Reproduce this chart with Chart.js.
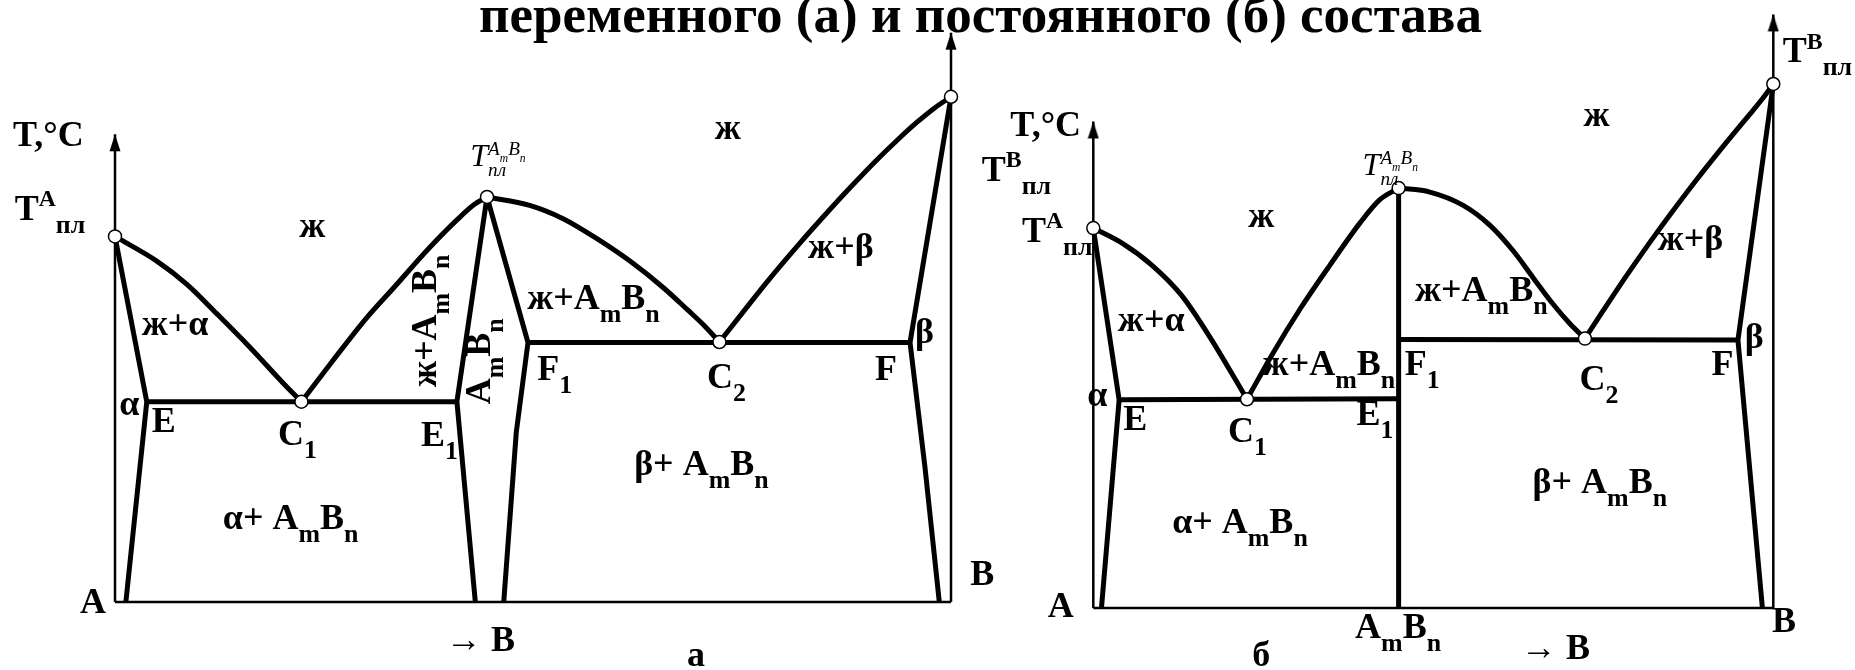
<!DOCTYPE html>
<html>
<head>
<meta charset="utf-8">
<script src="https://cdn.jsdelivr.net/npm/chart.js@4/dist/chart.umd.min.js"></script>
<style>
  body { margin: 0; background: #fff; }
  #wrap { position: relative; width: 1855px; height: 670px; overflow: hidden; background: #fff; }
  #wrap canvas { position: absolute; top: 0; }
  #title { position: absolute; white-space: nowrap; font: bold 52px "Liberation Serif", "Times New Roman", serif;
           line-height: 52px; transform-origin: left top; color: #000; }
</style>
</head>
<body>
<div id="wrap">
  <div id="title">переменного (а) и постоянного (б) состава</div>
  <canvas id="panelA" width="1000" height="670" style="left:0"></canvas>
  <canvas id="panelB" width="895" height="670" style="left:960px"></canvas>
</div>
<script>
// composition, % B  /  temperature (relative units)

// --- panel а: compound melts congruently, variable composition
const aLiquidusA = [[0,741],[5.0,691],[8.6,644],[12.2,584],[16.1,517],[20.1,444],[22.3,406]];
const aLiquidusAB1 = [[22.3,406],[26,488],[30,574],[33.5,640],[37.5,716],[41,776],[43,806],[44.5,821]];
const aLiquidusAB2 = [[44.5,821],[49.6,804],[53.6,777],[57.6,737],[61.6,691],[65.6,637],[68.5,592],[70.5,560],[72.3,527]];
const aLiquidusB = [[72.3,527],[75,585],[78,649],[81.9,727],[85,786],[88,841],[91,894],[93.5,935],[95.9,972],[98,1001],[100,1024]];
const aSolidusAlpha = [[0,741],[3.8,406],[1.3,0]];
const aEutectic1 = [[3.8,406],[40.9,406]];
const aCompound = [[43.1,0],[40.9,406],[44.5,821],[49.4,526],[48.0,344],[46.5,0]];
const aEutectic2 = [[49.4,526],[95.1,526]];
const aSolidusBeta = [[100,1024],[95.1,526],[96.9,271],[98.6,0]];
const aPoints = [[0,741],[22.3,406],[44.5,821],[72.3,527],[100,1024]];
const aAxisLeft = [[0,0],[0,948]];
const aAxisRight = [[100,0],[100,1154]];
const aBase = [[0,0],[100,0]];

// --- panel б: compound of constant composition
const bLiquidusA = [[0,770],[4.4,738],[8.6,695],[12.9,635],[17.1,550],[22.6,423]];
const bLiquidusAB1 = [[22.6,423],[26.4,516],[30.6,610],[34.8,695],[39.2,780],[42.1,827],[44.9,851]];
const bLiquidusAB2 = [[44.9,851],[49.5,843],[54.4,816],[58.3,776],[61.8,723],[64.7,669],[67.6,616],[70.1,576],[72.3,546]];
const bLiquidusB = [[72.3,546],[75,603],[77.5,655],[80,705],[82,744],[84.7,795],[88.6,866],[92,925],[94.5,967],[96.5,1000],[98.4,1032],[100,1062]];
const bSolidusAlpha = [[0,770],[3.8,422],[1.2,0]];
const bEutectic1 = [[3.8,422],[44.9,424]];
const bCompound = [[44.9,0],[44.9,851]];
const bEutectic2 = [[44.9,544],[94.8,543]];
const bSolidusBeta = [[100,1062],[94.8,543],[98.4,0]];
const bPoints = [[0,770],[22.6,423],[44.9,851],[72.3,546],[100,1062]];
const bAxisLeft = [[0,0],[0,986]];
const bAxisRight = [[100,0],[100,1203]];
const bBase = [[0,0],[100,0]];

// labels: text (_ sub, ^ sup), composition, temperature, flags (c centre, r rotated, i italic)
const aLabels = [
  ['T,°C', -12.2, 924],
  ['T^A_{пл}', -12.0, 774],
  ['ж', 23.6, 740, 'c'],
  ['ж+α', 3.2, 541],
  ['α', 0.5, 380],
  ['E', 4.4, 344],
  ['C_1', 19.5, 318],
  ['E_1', 36.6, 316],
  ['ж+A_mB_n', 38.4, 570, 'r'],
  ['A_mB_n', 44.9, 488, 'r'],
  ['ж+A_mB_n', 49.3, 594],
  ['F_1', 50.5, 450],
  ['T^{A_mB_n}_{пл}', 42.5, 884, 'i'],
  ['ж', 73.3, 938, 'c'],
  ['ж+β', 82.9, 698],
  ['β', 95.7, 524],
  ['F', 90.9, 450],
  ['C_2', 70.8, 434],
  ['β+ A_mB_n', 62.1, 258],
  ['α+ A_mB_n', 12.9, 148],
  ['A', -4.2, -22],
  ['B', 102.3, 34],
  ['→ B', 39.6, -100],
  ['а', 69.5, -130, 'c'],
];
const bLabels = [
  ['T,°C', -12.2, 956],
  ['T^B_{пл}', -16.4, 866],
  ['T^A_{пл}', -10.5, 742],
  ['ж', 24.7, 772, 'c'],
  ['ж', 74.0, 976, 'c'],
  ['T^{A_mB_n}_{пл}', 39.6, 878, 'i'],
  ['ж+α', 3.6, 562],
  ['ж+A_mB_n', 24.9, 472],
  ['ж+A_mB_n', 47.3, 622],
  ['ж+β', 83.0, 726],
  ['β', 95.8, 526],
  ['F', 90.9, 472],
  ['F_1', 45.8, 472],
  ['C_2', 71.5, 442],
  ['α', -0.9, 410],
  ['E', 4.4, 360],
  ['C_1', 19.8, 336],
  ['E_1', 38.7, 370],
  ['β+ A_mB_n', 64.6, 233],
  ['α+ A_mB_n', 11.6, 152],
  ['A', -6.7, -18],
  ['B', 99.8, -48],
  ['A_mB_n', 38.5, -60],
  ['б', 24.7, -118, 'c'],
  ['→ B', 62.9, -104],
  ['T^B_{пл}', 101.4, 1106],
];

const FAMILY = '"Liberation Serif", "Times New Roman", serif';
const BOLD = {size: 36, style: 'bold', subScale: 0.72, subDrop: 0.36, supScale: 0.66, supRise: 0.38, stack: false};
const ITALIC = {size: 32, style: 'italic', subScale: 0.6, subDrop: 0.33, supScale: 0.6, supRise: 0.33, stack: true};

function parse(s) {
    let out = [], buf = '', i = 0;
    let flush = () => { if (buf) { out.push({t: buf}); buf = ''; } };
    while (i < s.length) {
        let ch = s[i];
        if (ch === '_' || ch === '^') {
            flush();
            let inner;
            if (s[i + 1] === '{') {
                let depth = 0, j = i + 1;
                for (; j < s.length; j++) {
                    if (s[j] === '{') depth++;
                    if (s[j] === '}' && --depth === 0) break;
                }
                inner = s.slice(i + 2, j);
                i = j + 1;
            } else {
                inner = s[i + 1];
                i += 2;
            }
            out.push({kind: ch === '_' ? 'sub' : 'sup', items: parse(inner)});
        } else {
            buf += ch;
            i++;
        }
    }
    flush();
    return out;
}

function drawItems(ctx, items, x, y, size, cfg, dry) {
    let cx = x, supStart = x, prev = null;
    for (let it of items) {
        if (it.t) {
            ctx.font = `${cfg.style} ${size}px ${FAMILY}`;
            if (!dry) ctx.fillText(it.t, cx, y);
            cx += ctx.measureText(it.t).width;
            prev = 't';
        } else if (it.kind === 'sup') {
            supStart = cx;
            cx += drawItems(ctx, it.items, cx, y - size * cfg.supRise, size * cfg.supScale, cfg, dry);
            prev = 'sup';
        } else {
            let sx = (cfg.stack && prev === 'sup') ? supStart : cx;
            let w = drawItems(ctx, it.items, sx, y + size * cfg.subDrop, size * cfg.subScale, cfg, dry);
            cx = Math.max(cx, sx + w);
            prev = 'sub';
        }
    }
    return cx - x;
}

let labelPlugin = (labels) => ({
    id: 'phaseLabels',
    afterDatasetsDraw(chart) {
        let {ctx, scales: {x, y}} = chart;
        ctx.save();
        ctx.fillStyle = '#000';
        ctx.textAlign = 'left';
        ctx.textBaseline = 'alphabetic';
        for (let [text, c, t, flag = ''] of labels) {
            let cfg = flag.includes('i') ? ITALIC : BOLD;
            let items = parse(text);
            let px = x.getPixelForValue(c), py = y.getPixelForValue(t);
            let w = drawItems(ctx, items, 0, 0, cfg.size, cfg, true);
            if (flag.includes('r')) {
                ctx.save();
                ctx.translate(px, py);
                ctx.rotate(-Math.PI / 2);
                drawItems(ctx, items, -w / 2, 0, cfg.size, cfg, false);
                ctx.restore();
            } else {
                let sx = flag.includes('c') ? px - w / 2 : px;
                drawItems(ctx, items, sx, py, cfg.size, cfg, false);
            }
        }
        ctx.restore();
    }
});

// narrow arrow head, tip at the centre of the image
let arrowHead = document.createElement('canvas');
arrowHead.width = 12;
arrowHead.height = 36;
{
    let g = arrowHead.getContext('2d');
    g.fillStyle = '#000';
    g.beginPath();
    g.moveTo(6, 18);
    g.lineTo(11.5, 35);
    g.lineTo(0.5, 35);
    g.closePath();
    g.fill();
}

let pts = (arr) => arr.map(([x, y]) => ({x, y}));

let line = (arr, width, curved = false) => ({
    data: pts(arr),
    showLine: true,
    borderColor: '#000',
    borderWidth: width,
    pointRadius: 0,
    fill: false,
    clip: false,
    borderJoinStyle: 'round',
    cubicInterpolationMode: curved ? 'monotone' : 'default',
    tension: 0
});

let createPanel = (id, set, labels, padding, yMax) => {
    let thick = 5, thin = 2.5;
    let datasets = [
        {data: pts(set.points), showLine: false, pointRadius: 6.5, pointBorderWidth: 1.5,
         pointBackgroundColor: '#fff', pointBorderColor: '#000', clip: false},
        {data: pts([set.axisLeft[1], set.axisRight[1]]), showLine: false, pointStyle: arrowHead,
         pointRadius: 1, clip: false},
        line(set.liquidusA, thick, true),
        line(set.liquidusAB1, thick, true),
        line(set.liquidusAB2, thick, true),
        line(set.liquidusB, thick, true),
        line(set.solidusAlpha, thick),
        line(set.eutectic1, thick),
        line(set.compound, thick),
        line(set.eutectic2, thick),
        line(set.solidusBeta, thick),
        line(set.axisLeft, thin),
        line(set.axisRight, thin),
        line(set.base, thin),
    ];
    return new Chart(document.getElementById(id), {
        type: 'scatter',
        data: {datasets},
        options: {
            responsive: false,
            animation: false,
            devicePixelRatio: 1,
            events: [],
            layout: {padding},
            scales: {
                x: {type: 'linear', min: 0, max: 100, display: false},
                y: {type: 'linear', min: 0, max: yMax, display: false}
            },
            plugins: {legend: {display: false}, tooltip: {enabled: false}}
        },
        plugins: [labelPlugin(labels)]
    });
};

createPanel('panelA', {
    liquidusA: aLiquidusA, liquidusAB1: aLiquidusAB1, liquidusAB2: aLiquidusAB2, liquidusB: aLiquidusB,
    solidusAlpha: aSolidusAlpha, eutectic1: aEutectic1, compound: aCompound, eutectic2: aEutectic2,
    solidusBeta: aSolidusBeta, points: aPoints, axisLeft: aAxisLeft, axisRight: aAxisRight, base: aBase
}, aLabels, {left: 115, right: 49, top: 0, bottom: 68}, 1204);

createPanel('panelB', {
    liquidusA: bLiquidusA, liquidusAB1: bLiquidusAB1, liquidusAB2: bLiquidusAB2, liquidusB: bLiquidusB,
    solidusAlpha: bSolidusAlpha, eutectic1: bEutectic1, compound: bCompound, eutectic2: bEutectic2,
    solidusBeta: bSolidusBeta, points: bPoints, axisLeft: bAxisLeft, axisRight: bAxisRight, base: bBase
}, bLabels, {left: 133.3, right: 81.7, top: 0, bottom: 62}, 1216);

// title: stretched to the width it has in the picture
{
    let el = document.getElementById('title');
    let natural = el.getBoundingClientRect().width;
    let target = 1003, centre = 980;
    el.style.transform = `scaleX(${target / natural})`;
    el.style.left = (centre - target / 2) + 'px';
    el.style.top = '-11px';
}
</script>
</body>
</html>
